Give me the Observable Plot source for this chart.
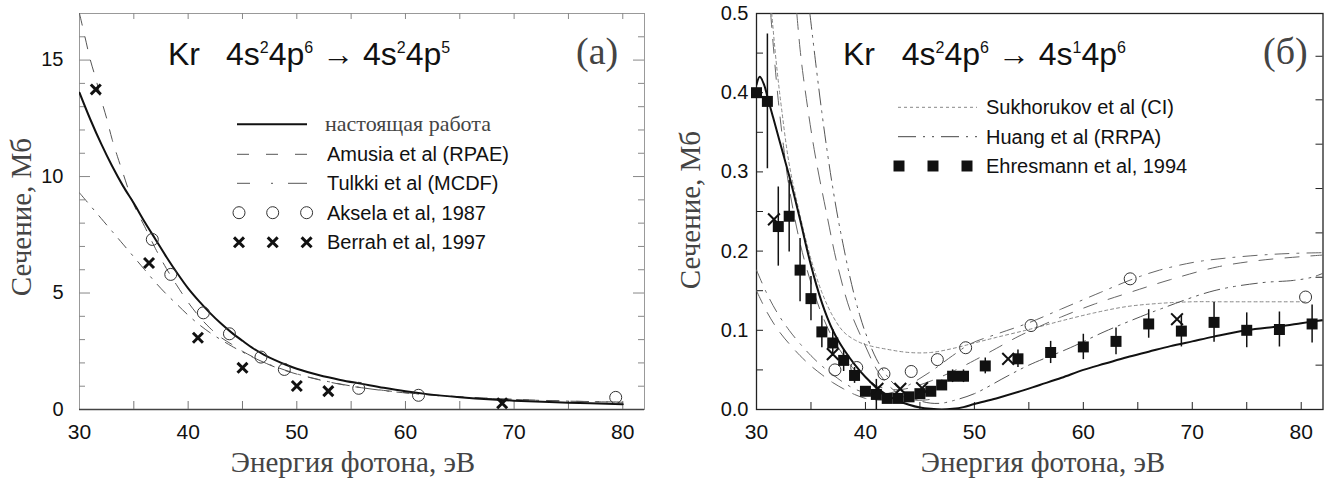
<!DOCTYPE html>
<html><head><meta charset="utf-8">
<script src="https://cdn.jsdelivr.net/npm/d3@7"></script>
<script src="https://cdn.jsdelivr.net/npm/@observablehq/plot@0.6"></script>
<style>
body{margin:0;background:#fff;}
#wrap{display:flex;width:1343px;height:481px;overflow:hidden;}
#wrap > svg{flex:none;display:block;}
</style></head><body><div id="wrap"></div>
<script>
// ---------- Panel (a): Kr 4s2 4p6 -> 4s2 4p5 ----------
const aPresentE = [30,31,32,33,34,35,36,37,38,39,40,41,42,43,44,45,46,47,48,49,50,52,54,56,58,60,62,65,68,70,75,80];
const aPresent  = [13.6,12.45,11.4,10.45,9.6,8.85,8.05,7.3,6.55,5.85,5.2,4.65,4.15,3.7,3.3,2.95,2.62,2.35,2.12,1.92,1.75,1.48,1.27,1.1,0.93,0.78,0.66,0.53,0.43,0.38,0.29,0.23];
const aAmusiaE  = [30,30.5,31,31.5,32,32.5,33,33.5,34,35,36,37,38,39,40,41,42,43,44,45,46,47,48,50,52,55,58,61,65,70,75,80];
const aAmusia   = [17.0,16.0,15.0,14.2,13.3,12.5,11.6,10.85,10.15,8.8,7.85,6.9,6.05,5.3,4.6,4.0,3.5,3.1,2.8,2.5,2.25,2.02,1.82,1.52,1.28,1.0,0.82,0.68,0.55,0.44,0.36,0.31];
const aTulkkiE  = [30,31,32,33,34,35,36,37,38,39,40,41,42,43,44,45,46,47,48,50,52,55,58,61,65,70,75,80];
const aTulkki   = [9.3,8.75,8.2,7.65,7.1,6.55,6.0,5.45,4.95,4.5,4.05,3.65,3.3,3.0,2.72,2.47,2.23,2.02,1.84,1.53,1.29,1.01,0.81,0.67,0.53,0.43,0.36,0.32];
const aAkselaE  = [36.7,38.4,41.4,43.8,46.7,48.85,55.7,61.2,79.35];
const aAksela   = [7.3,5.8,4.15,3.25,2.25,1.72,0.91,0.61,0.52];
const aBerrahE  = [31.5,36.4,40.9,45.0,50.0,52.9,68.9];
const aBerrah   = [13.74,6.29,3.08,1.79,1.01,0.79,0.27];
const aXLabels  = [30,40,50,60,70,80];
const aXTicks   = [35,40,45,50,55,60,65,70,75,80];
const aYLabels  = [0,5,10,15];
const aYMinor   = [1,2,3,4,6,7,8,9,11,12,13,14,16];
const aYMajor   = [5,10,15];

// ---------- Panel (б): Kr 4s2 4p6 -> 4s1 4p6 ----------
const bPresentE = [30,30.3,30.7,31,31.5,32,32.5,33,33.5,34,34.5,35,35.5,36,36.5,37,37.5,38,39,40,41,42,43,44,45,46,47,48,49,50,52,54,56,58,60,62,64,66,68,70,72,75,78,80,82];
const bPresent  = [0.41,0.42,0.41,0.395,0.37,0.345,0.32,0.295,0.268,0.24,0.21,0.182,0.157,0.135,0.116,0.1,0.087,0.076,0.057,0.041,0.028,0.018,0.011,0.006,0.0025,0.0008,0,0.0008,0.003,0.007,0.014,0.022,0.031,0.04,0.05,0.058,0.066,0.073,0.08,0.086,0.092,0.1,0.105,0.109,0.113];
const bSukhE    = [31.4,31.8,32.3,33,34,35,36,37,38,39,40,42,44,46,48,50,52,55,58,61,64,67,70,73,76,80.4];
const bSukh     = [0.5,0.44,0.38,0.31,0.245,0.19,0.148,0.118,0.098,0.088,0.082,0.076,0.072,0.072,0.077,0.084,0.091,0.101,0.112,0.122,0.13,0.134,0.136,0.136,0.136,0.136];
const bHuangE   = [34.9,35.5,36,36.5,37,37.5,38,38.5,39,39.5,40,41,42,43,44,45,46,47,48,50,53,55,58.8,61.9,64.5,67.1,72,76.3,79.3,81,82];
const bHuang    = [0.5,0.43,0.375,0.325,0.28,0.24,0.205,0.172,0.143,0.118,0.097,0.064,0.042,0.027,0.017,0.011,0.008,0.008,0.011,0.02,0.042,0.056,0.078,0.098,0.113,0.127,0.15,0.16,0.163,0.167,0.172];
const bAmusiaE  = [31.3,31.6,32,32.5,33,34,35,36,37,38,39,40,41,42,43,44,46,48,50,52,54,56,58,61,64.3,68,72.3,76,80,82];
const bAmusia   = [0.5,0.45,0.39,0.33,0.28,0.21,0.16,0.12,0.09,0.068,0.05,0.038,0.03,0.026,0.025,0.027,0.036,0.048,0.062,0.077,0.092,0.105,0.117,0.133,0.148,0.164,0.18,0.188,0.193,0.195];
const bTulkkiE  = [30,31,32,33,34,35,36,37,38,39,40,41,42,43,44,46,48,49.65,52,54.9,58,61.6,64.6,67,70.2,73,76.3,79,82];
const bTulkki   = [0.176,0.145,0.12,0.1,0.083,0.068,0.055,0.044,0.034,0.026,0.021,0.019,0.02,0.024,0.031,0.048,0.068,0.083,0.095,0.109,0.127,0.148,0.165,0.176,0.186,0.191,0.195,0.197,0.198];
const bSteepE   = [33.7,34,34.3,35.3,36.5,37.4,38.6,39.9,41.1,42.3,43.5,44.5,45.5,46.5];
const bSteep    = [0.5,0.455,0.42,0.328,0.243,0.184,0.125,0.083,0.049,0.028,0.016,0.012,0.012,0.014];
const bLowE     = [30,31,32,33,34,35,36,37,38,39,40,41,42,43];
const bLow      = [0.15,0.122,0.1,0.083,0.068,0.055,0.044,0.034,0.026,0.019,0.014,0.012,0.012,0.014];
const bEhrE     = [30,31,32,33,34,35,36,37,38,39,40,41,42,43,44,45,46,47,48,49,51,54,57,60,63,66,69,72,75,78,81];
const bEhr      = [0.4,0.389,0.231,0.244,0.176,0.14,0.098,0.084,0.062,0.043,0.023,0.019,0.014,0.014,0.016,0.02,0.023,0.031,0.042,0.042,0.055,0.064,0.072,0.079,0.086,0.108,0.099,0.11,0.1,0.101,0.108];
const bEhrErr   = [0,0.085,0.05,0.045,0.04,0.028,0.02,0.017,0.014,0.01,0.006,0.019,0.004,0.004,0.004,0.004,0.005,0.006,0.008,0.008,0.01,0.011,0.014,0.016,0.017,0.018,0.02,0.025,0.022,0.022,0.024];
const bAkselaE  = [37.2,39.2,41.7,44.2,46.6,49.2,55.2,64.3,80.4];
const bAksela   = [0.05,0.053,0.045,0.048,0.063,0.078,0.106,0.165,0.142];
const bBerrahE  = [31.6,37.0,41.1,43.2,45.2,53.1,68.6];
const bBerrah   = [0.24,0.07,0.026,0.026,0.027,0.064,0.114];
const bXLabels  = [30,40,50,60,70,80];
const bXTicks   = [35,40,45,50,55,60,65,70,75,80];
const bYLabels  = [0,0.1,0.2,0.3,0.4,0.5];
const bYTicksL  = [0.05,0.1,0.15,0.2,0.25,0.3,0.35,0.4,0.45];
const bYTicksR  = [0.056,0.112,0.167,0.223,0.279,0.335,0.391,0.446];

// ---------- helpers ----------
const sans = "'Liberation Sans', Arial, sans-serif";
const serif = "'Liberation Serif', 'Times New Roman', serif";
const pts = (xs, ys, es) => xs.map((x, i) => ({x, y: ys[i], e: es ? es[i] : 0}));
const H = 481, MT = 13, MB = 72, PH = H - MT - MB;

function broken(xs, ys, dash, stroke = "#555", w = 1) {
  return Plot.line(pts(xs, ys), {x: "x", y: "y", stroke, strokeWidth: w, strokeDasharray: dash, curve: "catmull-rom", clip: true});
}

function txt(svg, x, y, s, o = {}) {
  const t = d3.select(svg).append("text").attr("x", x).attr("y", y)
    .attr("font-family", o.family || sans).attr("font-size", o.size || 20)
    .attr("fill", o.fill || "#111").attr("text-anchor", o.anchor || "start").text(s);
  if (o.transform) t.attr("transform", o.transform).attr("x", 0).attr("y", 0);
  return t;
}
function formula(svg, x, y, parts) {
  const t = d3.select(svg).append("text").attr("x", x).attr("y", y).attr("text-anchor", "start")
    .attr("font-family", sans).attr("font-size", 32).attr("fill", "#111").style("white-space", "pre");
  let up = false;
  for (const [s, sup] of parts) {
    const ts = t.append("tspan").text(s);
    if (sup) { ts.attr("font-size", 16); if (!up) { ts.attr("dy", -12); up = true; } }
    else if (up) { ts.attr("dy", 12); up = false; }
  }
}
function legLine(svg, x1, x2, y, dash, stroke, w) {
  d3.select(svg).append("line").attr("x1", x1).attr("x2", x2).attr("y1", y).attr("y2", y)
    .attr("stroke", stroke).attr("stroke-width", w).attr("stroke-dasharray", dash || null);
}
function legSym(svg, xs, y, type, size, style) {
  for (const x of xs) {
    const p = d3.select(svg).append("path").attr("transform", `translate(${x},${y})`)
      .attr("d", d3.symbol(type, size)());
    for (const k in style) p.attr(k, style[k]);
  }
}

// ---------- panel (a) ----------
const WA = 672, MLA = 79, MRA = 28, PWA = WA - MLA - MRA;
const chartA = Plot.plot({
  width: WA, height: H, marginLeft: MLA, marginRight: MRA, marginTop: MT, marginBottom: MB,
  x: {domain: [30, 82]}, y: {domain: [0, 17]},
  style: {fontFamily: sans, background: "white", color: "#111"},
  marks: [
    Plot.frame({stroke: "#999"}),
    Plot.ruleY([0], {stroke: "#444", strokeWidth: 1.3}),
    Plot.tickX(aXTicks, {x: d => d, insetTop: PH - 8, stroke: "#777"}),
    Plot.tickX(aXTicks, {x: d => d, insetBottom: PH - 6, stroke: "#888"}),
    Plot.tickY(aYMinor, {y: d => d, insetRight: PWA - 6, stroke: "#888"}),
    Plot.tickY(aYMajor, {y: d => d, insetRight: PWA - 11, stroke: "#888"}),
    Plot.tickY(aYMinor, {y: d => d, insetLeft: PWA - 6, stroke: "#888"}),
    Plot.tickY(aYMajor, {y: d => d, insetLeft: PWA - 11, stroke: "#888"}),
    broken(aTulkkiE, aTulkki, "12,8,2,8", "#555", 1),
    broken(aAmusiaE, aAmusia, "12,12", "#555", 1),
    Plot.line(pts(aPresentE, aPresent), {x: "x", y: "y", stroke: "#111", strokeWidth: 2, curve: "catmull-rom", clip: true}),
    Plot.dot(pts(aAkselaE, aAksela), {x: "x", y: "y", r: 6, stroke: "#333", strokeWidth: 1, fill: "none"}),
    Plot.dot(pts(aBerrahE, aBerrah), {x: "x", y: "y", r: 4.6, symbol: "times", stroke: "#111", strokeWidth: 3}),
    Plot.axisX(aXLabels, {anchor: "bottom", tickSize: 0, tickPadding: 15, fontSize: 21, fill: "#111", label: null}),
    Plot.axisY(aYLabels, {anchor: "left", tickSize: 0, tickPadding: 16, fontSize: 20, fill: "#111", label: null})
  ]
});
document.getElementById("wrap").appendChild(chartA);
txt(chartA, 0, 0, "Сечение, Мб", {family: serif, size: 29, fill: "#444", anchor: "middle", transform: "translate(31,217) rotate(-90)"});
txt(chartA, 353, 472, "Энергия фотона, эВ", {family: serif, size: 29, fill: "#444", anchor: "middle"});
txt(chartA, 168, 65, "Kr", {size: 32});
formula(chartA, 226, 65, [["4s"],["2",1],["4p"],["6",1],[" \u2192 "],["4s"],["2",1],["4p"],["5",1]]);
txt(chartA, 576, 64, "(a)", {family: serif, size: 38, fill: "#444"});
// legend (a)
const lyA = [124.3, 154.3, 183.3, 212.7, 242.3];
legLine(chartA, 237, 307, lyA[0], null, "#111", 2);
legLine(chartA, 237, 307, lyA[1], "12,17", "#555", 1);
legLine(chartA, 237, 307, lyA[2], "13,21,2,15,19", "#555", 1);
legSym(chartA, [239, 272.7, 306.6], lyA[3], d3.symbolCircle, Math.PI * 36, {fill: "none", stroke: "#333", "stroke-width": 1});
legSym(chartA, [239, 272.7, 306.6], lyA[4], d3.symbolTimes, Math.PI * 4.6 * 4.6, {fill: "none", stroke: "#111", "stroke-width": 3});
txt(chartA, 325, lyA[0] + 7, "настоящая работа", {family: serif, size: 22, fill: "#444"});
txt(chartA, 327, lyA[1] + 7, "Amusia et al (RPAE)", {size: 20});
txt(chartA, 327, lyA[2] + 7, "Tulkki et al (MCDF)", {size: 20});
txt(chartA, 327, lyA[3] + 7, "Aksela et al, 1987", {size: 20});
txt(chartA, 327, lyA[4] + 7, "Berrah et al, 1997", {size: 20});

// ---------- panel (б) ----------
const WB = 671, MLB = 84, MRB = 20.5, PWB = WB - MLB - MRB;
const chartB = Plot.plot({
  width: WB, height: H, marginLeft: MLB, marginRight: MRB, marginTop: MT, marginBottom: MB,
  x: {domain: [30, 82]}, y: {domain: [0, 0.5]},
  style: {fontFamily: sans, background: "white", color: "#111"},
  marks: [
    Plot.frame({stroke: "#222", strokeWidth: 1.3}),
    Plot.tickX(bXTicks, {x: d => d, insetTop: PH - 7, stroke: "#222"}),
    Plot.tickY(bYTicksL, {y: d => d, insetRight: PWB - 7, stroke: "#222"}),
    Plot.tickY(bYTicksR, {y: d => d, insetLeft: PWB - 7, stroke: "#222"}),
    broken(bSukhE, bSukh, "3,3", "#888", 1),
    broken(bLowE, bLow, "14,10", "#666", 1),
    broken(bSteepE, bSteep, "16,10", "#666", 1),
    broken(bTulkkiE, bTulkki, "14,8,2,8", "#666", 1),
    broken(bAmusiaE, bAmusia, "14,12", "#666", 1),
    broken(bHuangE, bHuang, "16,6,2,6,2,6", "#555", 1),
    Plot.line(pts(bPresentE, bPresent), {x: "x", y: "y", stroke: "#111", strokeWidth: 2, curve: "catmull-rom", clip: true}),
    Plot.ruleX(pts(bEhrE, bEhr, bEhrErr), {x: "x", y1: d => d.y - d.e, y2: d => d.y + d.e, stroke: "#111", strokeWidth: 1.5, clip: true}),
    Plot.dot(pts(bAkselaE, bAksela), {x: "x", y: "y", r: 6, stroke: "#333", strokeWidth: 1, fill: "none"}),
    Plot.dot(pts(bEhrE, bEhr), {x: "x", y: "y", r: 6.2, symbol: "square", fill: "#111", stroke: "none"}),
    Plot.dot(pts(bBerrahE, bBerrah), {x: "x", y: "y", r: 5.4, symbol: "times", stroke: "#111", strokeWidth: 2}),
    Plot.axisX(bXLabels, {anchor: "bottom", tickSize: 0, tickPadding: 15, fontSize: 21, fill: "#111", label: null}),
    Plot.axisY(bYLabels, {anchor: "left", tickSize: 0, tickPadding: 8, fontSize: 20, fill: "#111", label: null, tickFormat: d3.format(".1f")})
  ]
});
document.getElementById("wrap").appendChild(chartB);
txt(chartB, 0, 0, "Сечение, Мб", {family: serif, size: 29, fill: "#444", anchor: "middle", transform: "translate(28,210) rotate(-90)"});
txt(chartB, 371, 472, "Энергия фотона, эВ", {family: serif, size: 29, fill: "#444", anchor: "middle"});
txt(chartB, 171, 65, "Kr", {size: 32});
formula(chartB, 229.7, 65, [["4s"],["2",1],["4p"],["6",1],[" \u2192 "],["4s"],["1",1],["4p"],["6",1]]);
txt(chartB, 591, 64, "(б)", {family: serif, size: 38, fill: "#444"});
// legend (б)
const lyB = [107.3, 136.7, 166];
legLine(chartB, 226, 305, lyB[0], "3,3", "#888", 1);
legLine(chartB, 226, 305, lyB[1], "18,7,2,7,2,7", "#444", 1);
legSym(chartB, [227, 261, 295], lyB[2], d3.symbolSquare, Math.PI * 6.2 * 6.2, {fill: "#111"});
txt(chartB, 314, lyB[0] + 7, "Sukhorukov et al (CI)", {size: 20});
txt(chartB, 314, lyB[1] + 7, "Huang et al (RRPA)", {size: 20});
txt(chartB, 314, lyB[2] + 7, "Ehresmann et al, 1994", {size: 20});
</script></body></html>
